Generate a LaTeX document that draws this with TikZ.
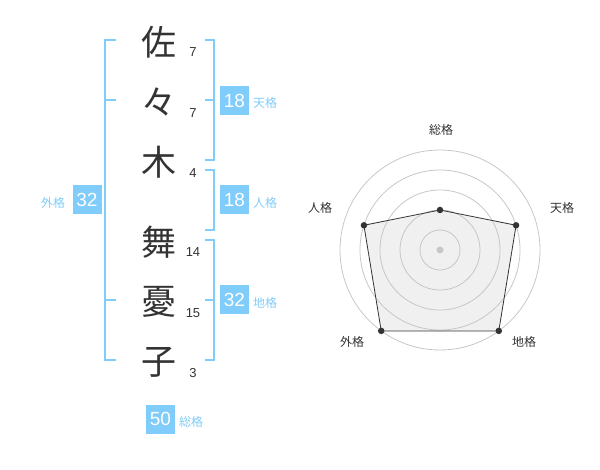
\documentclass[tikz,border=0pt]{standalone}
\usepackage{fontspec}
\usetikzlibrary{calc}
\setmainfont{Liberation Sans}
\newfontfamily\jp{Noto Sans CJK JP}
\definecolor{kakublue}{RGB}{128,204,250}
\definecolor{ink}{RGB}{51,51,51}

\begin{document}
\begin{tikzpicture}[x=1pt,y=-1pt]

\tikzset{kanji/.style = {font=\jp\fontsize{35}{35}\selectfont, text=ink, inner sep=0}}
\tikzset{strokes/.style = {font=\fontsize{13}{13}\selectfont, text=ink, inner sep=0}}
\tikzset{box/.style = {fill=kakublue, text=white, minimum size=29pt, inner sep=0, font=\fontsize{19}{19}\selectfont}}
\tikzset{kaku/.style = {text=kakublue, font=\jp\fontsize{12}{12}\selectfont, inner sep=0}}
\tikzset{bracket/.style = {draw=kakublue, line width=2pt}}
\tikzset{ring/.style = {draw=black!22, line width=0.8pt}}
\tikzset{axis/.style = {font=\jp\fontsize{12}{12}\selectfont, text=ink, inner sep=0}}
\tikzset{dot/.style = {circle, fill=ink, inner sep=0, minimum size=6.5pt}}

\useasboundingbox (0,0) rectangle (600,470);

%name
\node[kanji] (c1) at (159,42) {佐};
\node[kanji] (c2) at (159,102) {々};
\node[kanji] (c3) at (159,162) {木};
\node[kanji] (c4) at (159,242) {舞};
\node[kanji] (c5) at (159,302) {憂};
\node[kanji] (c6) at (159,362) {子};
%strokes
\node[strokes] (s1) at (193,52) {7};
\node[strokes] (s2) at (193,113) {7};
\node[strokes] (s3) at (193,173) {4};
\node[strokes] (s4) at (193,252) {14};
\node[strokes] (s5) at (193,313) {15};
\node[strokes] (s6) at (193,373) {3};

%brackets
\draw[bracket] (116,40) -| (105,360) -- (116,360);
\draw[bracket] (105,100) -- (116,100);
\draw[bracket] (105,300) -- (116,300);
\draw[bracket] (205,40) -| (214,160) -- (205,160);
\draw[bracket] (205,100) -- (214,100);
\draw[bracket] (205,170) -| (214,230) -- (205,230);
\draw[bracket] (205,240) -| (214,360) -- (205,360);
\draw[bracket] (205,300) -- (214,300);

%boxes
\node[box] (ten) at (234.5,100.5) {18};
\node[kaku, anchor=west] (tenl) at (253,103) {天格};
\node[box] (jin) at (234.5,200) {18};
\node[kaku, anchor=west] (jinl) at (253,203) {人格};
\node[box] (chi) at (234.5,300) {32};
\node[kaku, anchor=west] (chil) at (253,303) {地格};
\node[box] (gai) at (87,200) {32};
\node[kaku] (gail) at (53,203) {外格};
\node[box] (sou) at (160.5,419) {50};
\node[kaku, anchor=west] (soul) at (179,422) {総格};

%radar
\coordinate (o) at (440,250);
\coordinate (p1) at ($(o)+(-90:40)$);
\coordinate (p2) at ($(o)+(-18:80)$);
\coordinate (p3) at ($(o)+(54:100)$);
\coordinate (p4) at ($(o)+(126:100)$);
\coordinate (p5) at ($(o)+(198:80)$);
\fill[black!6] (p1) -- (p2) -- (p3) -- (p4) -- (p5) -- cycle;
\foreach \r in {20,40,...,100}
  \draw[ring] (o) circle (\r);
\draw[ink, line width=0.8pt] (p1) -- (p2) -- (p3) -- (p4) -- (p5) -- cycle;
\fill[black!22] (o) circle (3.5);
\foreach \p in {p1,p2,p3,p4,p5}
  \node[dot] at (\p) {};
\node[axis] (a1) at (441,130) {総格};
\node[axis] (a2) at (562,208) {天格};
\node[axis] (a3) at (524,342) {地格};
\node[axis] (a4) at (352,342) {外格};
\node[axis] (a5) at (320,208) {人格};

\end{tikzpicture}
\end{document}
